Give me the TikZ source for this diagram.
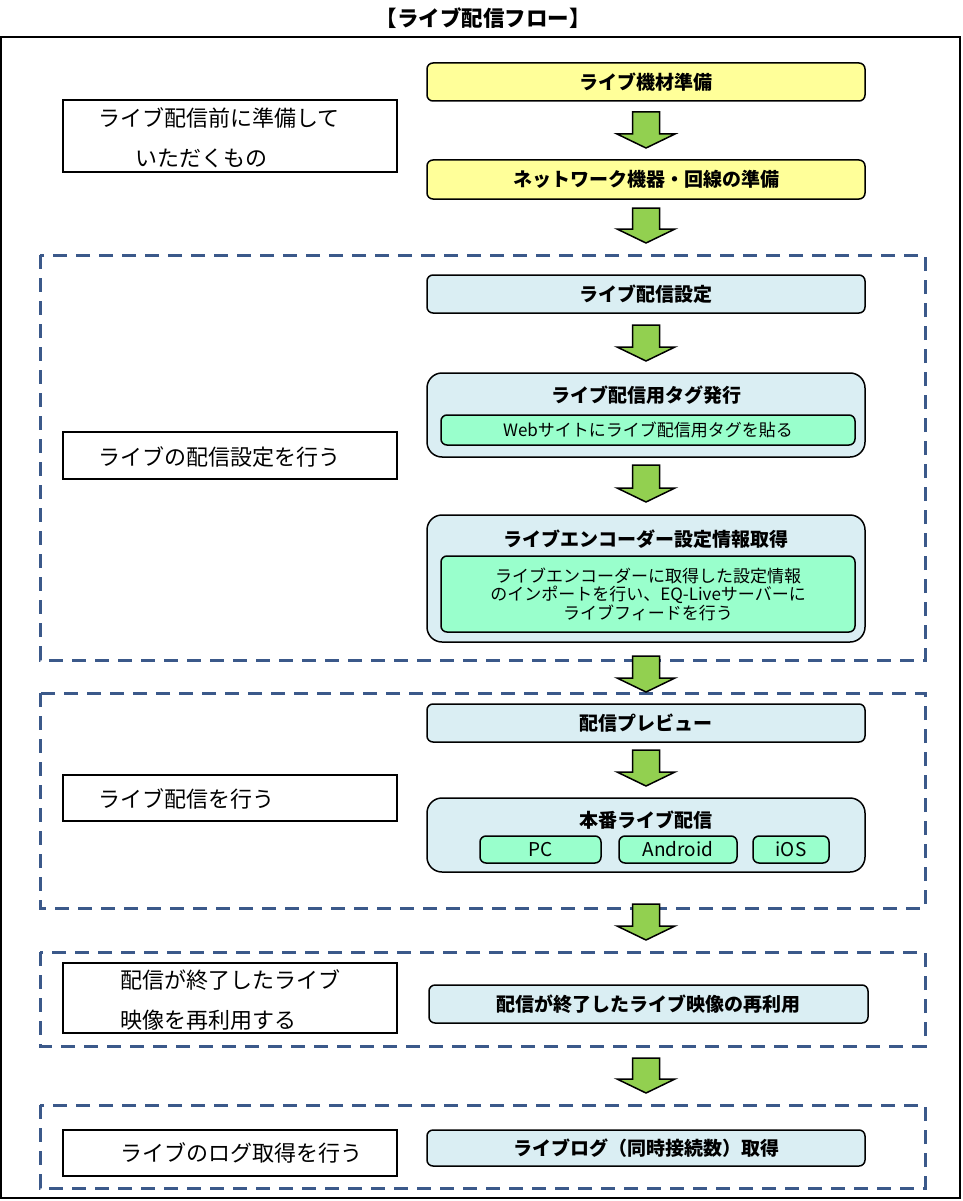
\documentclass[tikz,border=0pt]{standalone}
\usepackage{fontspec}
\setmainfont{Noto Sans CJK JP}
\usetikzlibrary{calc}
\definecolor{ylw}{HTML}{FFFF99}
\definecolor{lblue}{HTML}{DAEEF3}
\definecolor{aqua}{HTML}{99FFCC}
\definecolor{agreen}{HTML}{92D050}
\definecolor{dashblue}{RGB}{59,89,138}
\tikzset{
  box/.style={draw=black, line width=1.5pt, rounded corners=6pt, minimum width=438pt, inner sep=0pt, font=\fontsize{19}{21}\selectfont\bfseries},
  ybox/.style={box, fill=ylw},
  bbox/.style={box, fill=lblue},
  cbox/.style={draw=black, line width=1.5pt, rounded corners=15pt, fill=lblue, minimum width=438pt, inner sep=0pt},
  ibox/.style={draw=black, line width=1.5pt, rounded corners=6pt, fill=aqua, inner sep=0pt, font=\fontsize{17}{18.5}\selectfont, align=center},
  lbox/.style={draw=black, line width=1.8pt, fill=white, minimum width=334pt, inner sep=0pt},
  ltext/.style={anchor=west, inner sep=0pt, font=\fontsize{22}{23}\selectfont},
  ttl/.style={inner sep=0pt, font=\fontsize{19}{21}\selectfont\bfseries},
  grp/.style={draw=dashblue, line width=3pt, dash pattern=on 14pt off 9pt},
  garrow/.style={fill=agreen, draw=black, line width=1.5pt, line join=miter}
}
\newcommand{\greenarrow}[3]{% x, top, tip
  \draw[garrow] ({#1-13.5},#2) -- ({#1+13.5},#2) -- ({#1+13.5},{#3-14}) -- ({#1+29},{#3-14}) -- (#1,#3) -- ({#1-29},{#3-14}) -- ({#1-13.5},{#3-14}) -- cycle;}
\begin{document}
\begin{tikzpicture}[x=1pt,y=-1pt]
\useasboundingbox (0,0) rectangle (962,1201);
% title and frame
\node[font=\fontsize{21.5}{22}\selectfont\bfseries, inner sep=0pt] (title) at (483,18) {【ライブ配信フロー】};
\draw[line width=2pt] (1,37) rectangle (960,1198);
% dashed groups
\draw[grp] (40,255) rectangle (925,660);
\draw[grp] (40,693) rectangle (925,908);
\draw[grp] (40,952) rectangle (925,1046);
\draw[grp] (40,1105) rectangle (925,1188);
% left labels
\node[lbox, minimum height=72pt] (l1) at (230,136) {};
\node[ltext] (l1a) at (98,118) {ライブ配信前に準備して};
\node[ltext] (l1b) at (135,158) {いただくもの};
\node[lbox, minimum height=47pt] (l2) at (230,455.5) {};
\node[ltext] (l2a) at (98,457) {ライブの配信設定を行う};
\node[lbox, minimum height=46pt] (l3) at (230,798) {};
\node[ltext] (l3a) at (98,799) {ライブ配信を行う};
\node[lbox, minimum height=70pt] (l4) at (230,998) {};
\node[ltext] (l4a) at (120,980) {配信が終了したライブ};
\node[ltext] (l4b) at (120,1020) {映像を再利用する};
\node[lbox, minimum height=46pt] (l5) at (230,1153) {};
\node[ltext] (l5a) at (120,1153) {ライブのログ取得を行う};
% right column
\node[ybox, minimum height=38pt] (b1) at (646,82) {ライブ機材準備};
\node[ybox, minimum height=39pt] (b2) at (646,179.5) {ネットワーク機器・回線の準備};
\node[bbox, minimum height=38pt] (b3) at (646,294) {ライブ配信設定};
\node[cbox, minimum height=84pt] (b4) at (646,415) {};
\node[ttl] (b4t) at (646,395) {ライブ配信用タグ発行};
\node[ibox, minimum width=414pt, minimum height=30pt] (b4i) at (648,430) {Webサイトにライブ配信用タグを貼る};
\node[cbox, minimum height=127pt] (b5) at (646,578.5) {};
\node[ttl] (b5t) at (646,539) {ライブエンコーダー設定情報取得};
\node[ibox, minimum width=414pt, minimum height=76pt] (b5i) at (648,594) {ライブエンコーダーに取得した設定情報\\のインポートを行い、EQ-Liveサーバーに\\ライブフィードを行う};
\node[bbox, minimum height=38pt] (b6) at (646,723) {配信プレビュー};
\node[cbox, minimum height=74pt] (b7) at (646,835) {};
\node[ttl] (b7t) at (646,820) {本番ライブ配信};
\node[ibox, minimum width=121pt, minimum height=27pt, font=\fontsize{19}{20}\selectfont] (pc) at (540.5,849.5) {PC};
\node[ibox, minimum width=118pt, minimum height=27pt, font=\fontsize{19}{20}\selectfont] (android) at (678,849.5) {Android};
\node[ibox, minimum width=76pt, minimum height=27pt, font=\fontsize{19}{20}\selectfont] (ios) at (791,849.5) {iOS};
\node[bbox, minimum width=439pt, minimum height=38pt] (b8) at (648.5,1004) {配信が終了したライブ映像の再利用};
\node[bbox, minimum height=36pt] (b9) at (646,1148) {ライブログ（同時接続数）取得};
% arrows
\greenarrow{646}{112}{148}
\greenarrow{646}{208}{243}
\greenarrow{646}{325}{361}
\greenarrow{646}{465}{502}
\greenarrow{646}{656}{692}
\greenarrow{646}{750}{786}
\greenarrow{646}{904}{940}
\greenarrow{646}{1058}{1093}
\end{tikzpicture}
\end{document}
